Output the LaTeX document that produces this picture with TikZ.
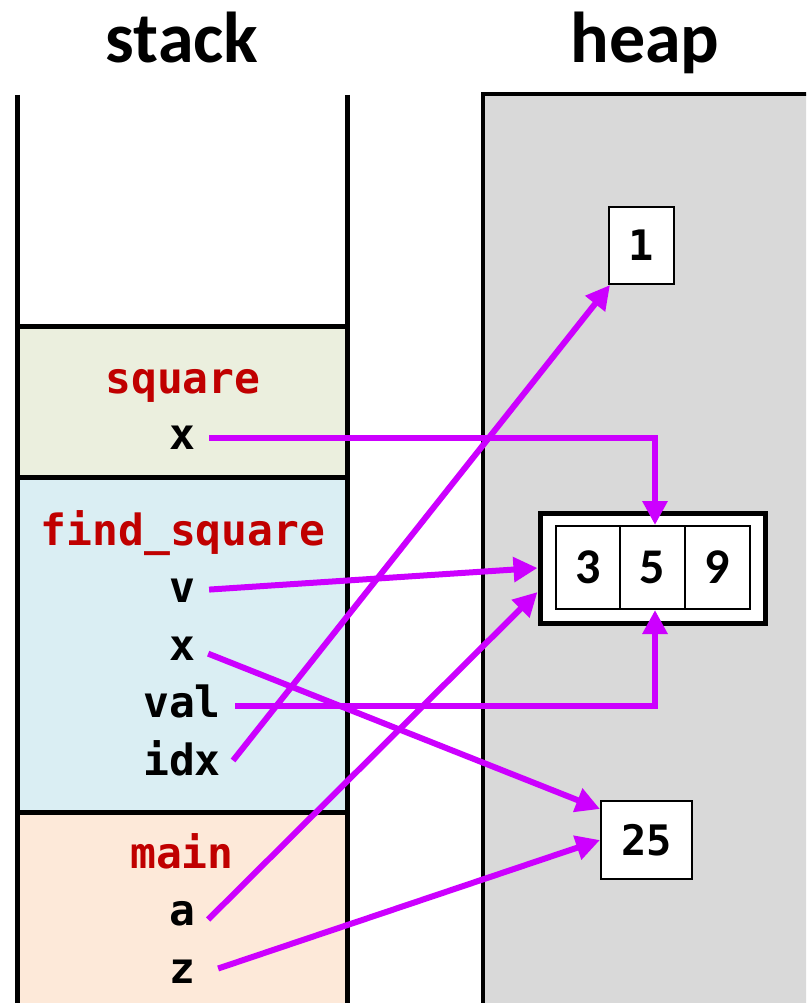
\documentclass[tikz,border=0pt]{standalone}
\usepackage{fontspec}
\setmainfont{Carlito}
\newfontfamily\monofont{DejaVu Sans Mono}
\usetikzlibrary{arrows.meta}

\definecolor{fnred}{HTML}{C00000}
\definecolor{ptr}{HTML}{CC00FF}
\definecolor{sqfill}{HTML}{EBEFDE}
\definecolor{findfill}{HTML}{DAEEF3}
\definecolor{mainfill}{HTML}{FDE9D9}
\definecolor{heapfill}{HTML}{D9D9D9}

\tikzset{
  x=1pt, y=-1pt,
  heading/.style={font=\fontsize{72}{80}\selectfont\bfseries, anchor=base, inner sep=0},
  fname/.style={font=\monofont\bfseries\fontsize{43}{50}\selectfont, text=fnred, anchor=base, inner sep=0},
  var/.style={font=\monofont\bfseries\fontsize{43}{50}\selectfont, anchor=base, inner sep=0,
    text height=23pt, text depth=0pt},
  valbox/.style={draw, line width=2pt, fill=white, inner sep=0,
    font=\monofont\bfseries\fontsize{42}{48}\selectfont},
  cell/.style={draw, line width=2pt, fill=white, inner sep=0,
    minimum width=64.5pt, minimum height=83pt,
    font=\bfseries\fontsize{50}{56}\selectfont},
  pointer/.style={draw=ptr, line width=6pt,
    -{Triangle[length=24pt,width=24pt]}, shorten <=14pt},
  pointerfree/.style={pointer, shorten <=0pt},
}

\begin{document}
\begin{tikzpicture}
\clip (0,0) rectangle (806,1003);
\fill[white] (0,0) rectangle (806,1003);

% stack frames
\fill[sqfill] (17,326) rectangle (347,477);
\fill[findfill] (17,477) rectangle (347,812);
\fill[mainfill] (17,812) rectangle (347,1010);
\draw[line width=5pt] (17,95) -- (17,1010);
\draw[line width=5pt] (347,95) -- (347,1010);
\draw[line width=5pt] (15,326) -- (349,326);
\draw[line width=5pt] (15,477) -- (349,477);
\draw[line width=5pt] (15,812) -- (349,812);

% heap region
\draw[line width=4pt, fill=heapfill] (483,94) rectangle (830,1030);

% headings
\node[heading] (hstack) at (182,63) {stack};
\node[heading] (hheap) at (645,63) {heap};

% frame contents
\node[fname] (fsq) at (183,393) {square};
\node[var] (sqx) at (182,449) {x};

\node[fname] (ffind) at (183,545) {find\_square};
\node[var] (fv) at (182,602) {v};
\node[var] (fx) at (182,660) {x};
\node[var] (fval) at (182,717) {val};
\node[var] (fidx) at (182,775) {idx};

\node[fname] (fmain) at (182,868) {main};
\node[var] (ma) at (182,925) {a};
\node[var] (mz) at (182,983) {z};

% heap objects
\node[valbox, minimum width=65pt, minimum height=77pt] (b1) at (641.5,245.5) {1};
\node[valbox, minimum width=91pt, minimum height=78pt] (b25) at (646.5,840) {25};
\node[draw, line width=5pt, fill=white, minimum width=225pt, minimum height=110pt] (arr) at (652.5,568) {};
\node[cell] (c3) at (588.5,567.5) {3};
\node[cell] (c5) at (652.5,567.5) {5};
\node[cell] (c9) at (717.5,567.5) {9};

% pointers
\draw[pointer] (sqx.east) -| ([xshift=2.5pt]c5.north);
\draw[pointer] (fv.east) -- (arr.west);
\draw[pointer] (fx.east) -- ([yshift=-9pt]b25.north west);
\draw[pointer] (fval.east) -| ([xshift=2.5pt]c5.south);
\draw[pointerfree] ([shift={(12pt,3pt)}]fidx.east) -- ([xshift=2pt]b1.south west);
\draw[pointerfree] ([shift={(13pt,-6pt)}]ma.east) -- ([yshift=-24pt]arr.west);
\draw[pointerfree] ([shift={(23pt,3pt)}]mz.east) -- (b25.west);
\end{tikzpicture}
\end{document}
